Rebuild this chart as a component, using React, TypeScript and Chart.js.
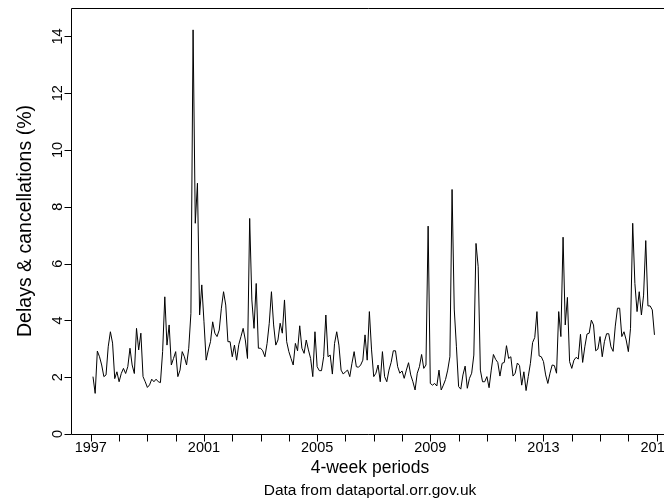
import React, { useEffect, useRef } from "react";
import { Chart, registerables } from "chart.js";

Chart.register(...registerables);

// Financial year of the first value and number of 4-week periods per year
const FIRST_YEAR = 1997;
const PERIODS_PER_YEAR = 13;

// Delays & cancellations (%), one line per financial year (13 periods)
const delays: number[] = [
  2.02, 1.43, 2.92, 2.72, 2.43, 2.02, 2.08, 3.07, 3.6, 3.2, 1.95, 2.19, 1.84,
  2.13, 2.31, 2.13, 2.37, 3.02, 2.43, 2.13, 3.72, 2.96, 3.55, 2.02, 1.84, 1.64,
  1.73, 1.93, 1.84, 1.93, 1.84, 1.81, 2.9, 4.83, 3.13, 3.84, 2.43, 2.66, 2.9,
  2.02, 2.25, 2.9, 2.72, 2.43, 3.02, 4.25, 14.23, 7.42, 8.83, 4.19, 5.25, 3.95,
  2.6, 2.96, 3.25, 3.95, 3.55, 3.43, 3.66, 4.43, 5.01, 4.54, 3.25, 3.25, 2.72,
  3.13, 2.6, 3.15, 3.43, 3.72, 3.31, 2.66, 7.59, 4.72, 3.72, 5.3, 3.02, 3.02,
  2.93, 2.72, 3.19, 3.9, 5.01, 3.84, 3.13, 3.31, 3.9, 3.55, 4.72, 3.25, 2.9,
  2.66, 2.43, 3.19, 2.93, 3.81, 3.02, 2.84, 3.31, 2.96, 2.66, 2.02, 3.6, 2.37,
  2.23, 2.23, 2.72, 4.19, 2.72, 2.78, 2.11, 3.19, 3.6, 3.13, 2.25, 2.11, 2.19,
  2.25, 2.02, 2.49, 2.9, 2.37, 2.35, 2.43, 2.6, 3.49, 2.6, 4.31, 2.96, 2.02,
  2.14, 2.43, 1.84, 2.9, 2.02, 1.84, 2.25, 2.52, 2.93, 2.93, 2.37, 2.14, 2.22,
  1.96, 2.25, 2.51, 2.08, 1.84, 1.55, 2.14, 2.37, 2.8, 2.31, 2.43, 7.32, 1.78,
  1.72, 1.78, 1.69, 2.25, 1.55, 1.72, 1.92, 2.25, 2.72, 8.61, 4.4, 3.07, 1.67,
  1.58, 2.08, 2.39, 1.61, 1.96, 2.14, 2.78, 6.71, 5.89, 2.25, 1.84, 1.84, 2.02,
  1.63, 2.25, 2.8, 2.63, 2.52, 2.04, 2.49, 2.52, 3.11, 2.66, 2.72, 2.04, 2.14,
  2.5, 2.41, 1.72, 2.19, 1.53, 2.02, 2.49, 3.22, 3.4, 4.31, 2.75, 2.72, 2.55,
  2.08, 1.78, 2.14, 2.43, 2.41, 2.14, 4.31, 3.43, 6.93, 3.84, 4.81, 2.55, 2.31,
  2.6, 2.7, 2.64, 3.51, 2.52, 3.07, 3.52, 3.55, 4.01, 3.84, 2.93, 2.99, 3.43,
  2.72, 3.25, 3.53, 3.53, 3.07, 2.91, 3.8, 4.43, 4.43, 3.43, 3.6, 3.31, 2.9,
  3.72, 7.42, 5.3, 4.31, 5.01, 4.19, 4.89, 6.81, 4.51, 4.51, 4.37, 3.49,
];

const yearTicks = [
  1997, 1998, 1999, 2000, 2001, 2002, 2003, 2004, 2005, 2006, 2007,
  2008, 2009, 2010, 2011, 2012, 2013, 2014, 2015, 2016, 2017,
];
const yearLabels = [1997, 2001, 2005, 2009, 2013, 2017];
const yTicks = [0, 2, 4, 6, 8, 10, 12, 14];

const X_MIN = 1996.3;
const X_MAX = 2017.26;
const Y_MIN = 0;
const Y_MAX = 15;

const X_TITLE = "4-week periods";
const SUB_TITLE = "Data from dataportal.orr.gov.uk";
const Y_TITLE = "Delays & cancellations (%)";

const FONT = "'Liberation Sans', Arial, Helvetica, sans-serif";

const axesPlugin = {
  id: "rAxes",
  afterDraw(chart: any) {
    const { ctx, chartArea: ca, scales } = chart;
    const xs = scales.x;
    const ys = scales.y;
    ctx.save();
    ctx.strokeStyle = "#000";
    ctx.fillStyle = "#000";
    ctx.lineWidth = 1;

    const L = Math.round(ca.left) + 0.5;
    const T = Math.round(ca.top) + 0.5;
    const B = Math.round(ca.bottom) + 0.5;
    // box (right side is outside the view)
    ctx.beginPath();
    ctx.moveTo(ca.right + 2, T);
    ctx.lineTo(L, T);
    ctx.lineTo(L, B);
    ctx.lineTo(ca.right + 2, B);
    ctx.stroke();

    // x ticks
    ctx.beginPath();
    yearTicks.forEach((yr) => {
      const px = Math.round(xs.getPixelForValue(yr)) + 0.5;
      ctx.moveTo(px, B);
      ctx.lineTo(px, B + 7);
    });
    // y ticks
    yTicks.forEach((v) => {
      const py = Math.round(ys.getPixelForValue(v)) + 0.5;
      ctx.moveTo(L, py);
      ctx.lineTo(L - 7, py);
    });
    ctx.stroke();

    // x tick labels
    ctx.font = `14.5px ${FONT}`;
    ctx.textAlign = "center";
    ctx.textBaseline = "middle";
    yearLabels.forEach((yr) => {
      ctx.fillText(String(yr), xs.getPixelForValue(yr), 448);
    });

    // y tick labels (parallel to axis)
    yTicks.forEach((v) => {
      const py = ys.getPixelForValue(v);
      ctx.save();
      ctx.translate(58, py);
      ctx.rotate(-Math.PI / 2);
      ctx.fillText(String(v), 0, 0);
      ctx.restore();
    });

    // titles
    ctx.font = `17.5px ${FONT}`;
    ctx.fillText(X_TITLE, 370, 468);
    ctx.font = `15.5px ${FONT}`;
    ctx.fillText(SUB_TITLE, 370, 491);

    ctx.save();
    ctx.font = `19.5px ${FONT}`;
    ctx.translate(26, (ca.top + ca.bottom) / 2);
    ctx.rotate(-Math.PI / 2);
    ctx.fillText(Y_TITLE, 0, 0);
    ctx.restore();

    ctx.restore();
  },
};

export default function App() {
  const canvasRef = useRef<HTMLCanvasElement | null>(null);

  useEffect(() => {
    const canvas = canvasRef.current;
    if (!canvas) return;
    const points = delays.map((v, i) => ({
      x:
        FIRST_YEAR +
        Math.floor(i / PERIODS_PER_YEAR) +
        ((i % PERIODS_PER_YEAR) + 1) / PERIODS_PER_YEAR,
      y: v,
    }));
    const chart = new Chart(canvas, {
      type: "line",
      data: {
        datasets: [
          {
            data: points,
            borderColor: "#000",
            borderWidth: 1,
            pointRadius: 0,
            tension: 0,
            fill: false,
          },
        ],
      },
      options: {
        animation: false,
        responsive: false,
        devicePixelRatio: 1,
        layout: { padding: { left: 71, top: 8, right: 0, bottom: 70 } },
        plugins: {
          legend: { display: false },
          tooltip: { enabled: false },
        },
        scales: {
          x: { type: "linear", display: false, min: X_MIN, max: X_MAX },
          y: { type: "linear", display: false, min: Y_MIN, max: Y_MAX },
        },
      },
      plugins: [axesPlugin],
    });
    return () => chart.destroy();
  }, []);

  return (
    <div
      style={{
        position: "absolute",
        left: 0,
        top: 0,
        width: 664,
        height: 504,
        background: "#fff",
        overflow: "hidden",
      }}
    >
      <canvas ref={canvasRef} width={664} height={504} />
    </div>
  );
}
